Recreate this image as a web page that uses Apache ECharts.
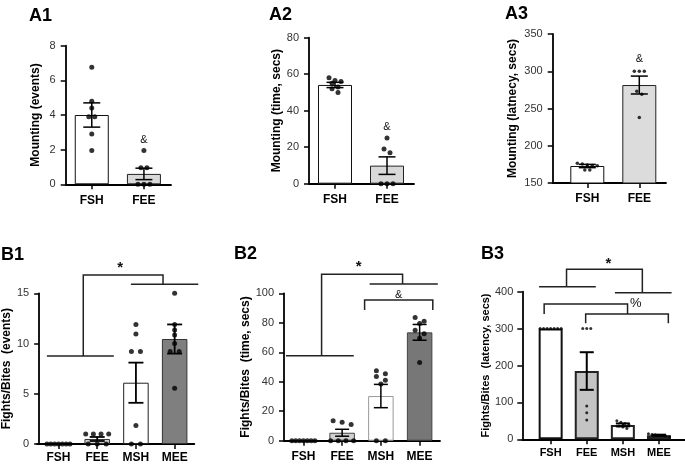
<!DOCTYPE html>
<html><head><meta charset="utf-8">
<script src="https://cdn.jsdelivr.net/npm/echarts@6/dist/echarts.min.js"></script>
<style>html,body{margin:0;padding:0;background:#fff}#c{width:685px;height:471px}</style>
</head><body><div id="c"></div>
<script>
// ---------------- DATA ----------------
const catsA = ['FSH', 'FEE'];
const catsB = ['FSH', 'FEE', 'MSH', 'MEE'];

// A1 Mounting (events)
const a1Ticks = [0, 2, 4, 6, 8];
const a1Mean = [4.0, 0.6];
const a1Sem = [0.7, 0.33];
const a1FSH = [6.75, 4.8, 4.4, 3.9, 3.9, 2.9, 1.95];
const a1FEE = [1.95, 0.95, 0.95, 0, 0, 0];

// A2 Mounting (time, secs)
const a2Ticks = [0, 20, 40, 60, 80];
const a2Mean = [54.1, 9.9];
const a2Sem = [1.45, 4.8];
const a2FSH = [58, 56.5, 56, 55, 53, 52, 50];
const a2FEE = [25, 19, 17, 0, 0, 0];

// A3 Mounting (latency, secs)
const a3Ticks = [150, 200, 250, 300, 350];
const a3Mean = [172.8, 281.5];
const a3Sem = [2.2, 12];
const a3FSH = [176.5, 175.5, 174, 173.5, 173, 167.5, 167.5];
const a3FEE = [300, 300, 300, 273, 269, 238];

// B1 Fights/Bites (events)
const b1Ticks = [0, 5, 10, 15];
const b1Mean = [0, 0.5, 6.1, 10.45];
const b1Sem = [0, 0.2, 2.0, 1.45];
const b1FSH = [0, 0, 0, 0, 0, 0, 0];
const b1FEE = [1, 1, 1, 1, 0, 0, 0];
const b1MSH = [11.9, 10.95, 9.2, 9.2, 1.85, 0, 0];
const b1MEE = [15, 11.9, 11.35, 10.85, 10.0, 9.2, 9.2, 5.55];

// B2 Fights/Bites (time, secs)
const b2Ticks = [0, 20, 40, 60, 80, 100];
const b2Mean = [0, 5.4, 30.3, 73.5];
const b2Sem = [0, 2.35, 7.9, 5.35];
const b2FSH = [0, 0, 0, 0, 0, 0, 0];
const b2FEE = [13.5, 12.5, 11, 0, 0, 0, 0];
const b2MSH = [47.5, 45.5, 43.5, 41, 38.5, 0, 0];
const b2MEE = [83.5, 81, 79.5, 75, 72.5, 69.5, 53];

// B3 Fights/Bites (latency, secs)
const b3Ticks = [0, 100, 200, 300, 400];
const b3Mean = [300, 185, 39, 11];
const b3Sem = [0, 51, 4, 1.5];
const b3FSH = [300, 300, 300, 300, 300, 300, 300];
const b3FEE = [300, 300, 300, 90, 72, 52];
const b3MSH = [50, 46, 43, 40, 36, 33, 29];
const b3MEE = [15, 13, 12, 11, 10, 9, 7];

// significance annotations (data units: category index, value)
const b1Brackets = [
  [[-0.30, 8.76], [1.43, 8.76]],
  [[0.64, 8.76], [0.64, 16.82], [2.70, 16.82], [2.70, 15.9]],
  [[1.87, 15.9], [3.61, 15.9]]
];
const b1Marks = [{t: '*', x: 1.59, y: 17.5}];
const b2Brackets = [
  [[-0.45, 57.7], [1.30, 57.7]],
  [[0.47, 57.7], [0.47, 112.9], [2.56, 112.9], [2.56, 106.3]],
  [[1.71, 106.3], [3.47, 106.3]],
  [[1.58, 88.7], [1.58, 95.5], [3.34, 95.5], [3.34, 88.7]]
];
const b2Marks = [{t: '*', x: 1.43, y: 117.6}, {t: '&', x: 2.46, y: 99.2}];
const b3Brackets = [
  [[-0.32, 413.6], [1.25, 413.6]],
  [[0.44, 413.6], [0.44, 460.7], [2.54, 460.7], [2.54, 397.3]],
  [[1.78, 397.3], [3.35, 397.3]],
  [[-0.18, 339.6], [-0.18, 366.7], [2.13, 366.7], [2.13, 339.6]],
  [[0.97, 314.4], [0.97, 339.6], [3.26, 339.6], [3.26, 314.4]]
];
const b3Marks = [{t: '*', x: 1.60, y: 475}, {t: '%', x: 2.36, y: 367}];
const a1Marks = [{t: '&', x: 1, y: 2.56}];
const a2Marks = [{t: '&', x: 1, y: 31.2}];
const a3Marks = [{t: '&', x: 1, y: 316}];

// ---------------- LAYOUT / STYLE ----------------
const FONT = '"Liberation Sans", Arial, sans-serif';
const panels = [
  {title: 'A1', cats: catsA, ticks: a1Ticks, mean: a1Mean, sem: a1Sem, pts: [a1FSH, a1FEE],
   ytitle: 'Mounting (events)', brackets: [], marks: a1Marks,
   fill: ['#ffffff', '#d9d9d9'], border: ['#111', '#222'],
   L: {tx: 29, ty: 7, axisX: 65.7, gl: 65.7, gr: 170, top: 45.7, bottom: 184.3, lineEnd: 171,
       barW: 34, capW: 17, dot: 5, step: 6, spread: 20, bw: 1, eb: 1.5,
       tickFont: 11, catFont: 12, catMargin: 10, yMargin: 10, nameGap: 24, nameFont: 12}},
  {title: 'A2', cats: catsA, ticks: a2Ticks, mean: a2Mean, sem: a2Sem, pts: [a2FSH, a2FEE],
   ytitle: 'Mounting (time, secs)', brackets: [], marks: a2Marks,
   fill: ['#ffffff', '#d9d9d9'], border: ['#111', '#222'],
   L: {tx: 269, ty: 6, axisX: 309, gl: 309, gr: 413, top: 37.7, bottom: 183.7, lineEnd: 414,
       barW: 34, capW: 17, dot: 5, step: 6, spread: 20, bw: 1, eb: 1.5,
       tickFont: 11, catFont: 12, catMargin: 10, yMargin: 10, nameGap: 26, nameFont: 12}},
  {title: 'A3', cats: catsA, ticks: a3Ticks, mean: a3Mean, sem: a3Sem, pts: [a3FSH, a3FEE],
   ytitle: 'Mounting (latnecy, secs)', brackets: [], marks: a3Marks,
   fill: ['#ffffff', '#dcdcdc'], border: ['#111', '#222'],
   L: {tx: 505, ty: 5, axisX: 552.7, gl: 561.3, gr: 665.3, top: 34, bottom: 183, lineEnd: 666,
       barW: 34, capW: 17, dot: 3.5, step: 5, spread: 24, bw: 1, eb: 1.5,
       tickFont: 11, catFont: 12, catMargin: 10, yMargin: 10, nameGap: 34, nameFont: 12}},
  {title: 'B1', cats: catsB, ticks: b1Ticks, mean: b1Mean, sem: b1Sem, pts: [b1FSH, b1FEE, b1MSH, b1MEE],
   ytitle: 'Fights/Bites  (events)', brackets: b1Brackets, marks: b1Marks,
   fill: ['#ffffff', '#d0d0d0', '#ffffff', '#7f7f7f'], border: ['#111', '#333', '#222', '#333'],
   L: {tx: 1, ty: 246, axisX: 37.3, gl: 37.3, gr: 194, top: 293.3, bottom: 444, lineEnd: 194.3,
       barW: 25.5, capW: 15, dot: 5, step: 9, spread: 23, bw: 1, eb: 1.8,
       tickFont: 11, catFont: 12, catMargin: 8, yMargin: 10, nameGap: 23, nameFont: 12}},
  {title: 'B2', cats: catsB, ticks: b2Ticks, mean: b2Mean, sem: b2Sem, pts: [b2FSH, b2FEE, b2MSH, b2MEE],
   ytitle: 'Fights/Bites  (time, secs)', brackets: b2Brackets, marks: b2Marks,
   fill: ['#ffffff', '#d0d0d0', '#ffffff', '#777777'], border: ['#111', '#444', '#999', '#444'],
   L: {tx: 234, ty: 245, axisX: 284, gl: 284, gr: 439, top: 293.3, bottom: 440.7, lineEnd: 440,
       barW: 25.5, capW: 14, dot: 5, step: 9, spread: 23, bw: 1, eb: 1.5,
       tickFont: 11, catFont: 12, catMargin: 10, yMargin: 10, nameGap: 32, nameFont: 12}},
  {title: 'B3', cats: catsB, ticks: b3Ticks, mean: b3Mean, sem: b3Sem, pts: [b3FSH, b3FEE, b3MSH, b3MEE],
   ytitle: 'Fights/Bites  (latency, secs)', brackets: b3Brackets, marks: b3Marks,
   fill: ['#ffffff', '#c4c4c4', '#ffffff', '#6f6f6f'], border: ['#111', '#222', '#222', '#222'],
   L: {tx: 481, ty: 245, axisX: 522.3, gl: 532.6, gr: 677, top: 291.7, bottom: 439.3, lineEnd: 685,
       barW: 24, capW: 14, dot: 3, step: 4, spread: 21, bw: 2, eb: 2,
       tickFont: 11, catFont: 11, catMargin: 8, yMargin: 9, nameGap: 28, nameFont: 11}}
];

function swarm(vals, tol, step, spread) {
  const out = new Array(vals.length).fill(0);
  const used = new Array(vals.length).fill(false);
  for (let i = 0; i < vals.length; i++) {
    if (used[i]) continue;
    const grp = [i]; used[i] = true;
    for (let j = i + 1; j < vals.length; j++) {
      if (!used[j] && Math.abs(vals[j] - vals[i]) <= tol) { grp.push(j); used[j] = true; }
    }
    const s = grp.length > 1 ? Math.min(step, spread / (grp.length - 1)) : 0;
    grp.forEach((idx, k) => { out[idx] = (k - (grp.length - 1) / 2) * s; });
  }
  return out;
}
function toPx(api, x, y) {
  const r = Math.round(x);
  const c = api.coord([r, y]);
  const bw = api.size([1, 0])[0];
  return [c[0] + (x - r) * bw, c[1]];
}

const option = {animation: false, textStyle: {fontFamily: FONT}, title: [], grid: [], xAxis: [], yAxis: [], series: []};

panels.forEach((p, k) => {
  const L = p.L;
  const ymin = p.ticks[0], ymax = p.ticks[p.ticks.length - 1];
  const yint = p.ticks[1] - p.ticks[0];
  const ax = 2 * k, dx = 2 * k + 1;
  option.title.push({text: p.title, left: L.tx, top: L.ty, padding: 0,
    textStyle: {fontSize: 18, fontWeight: 'bold', color: '#000', fontFamily: FONT}});
  option.grid.push({left: L.gl, top: L.top, width: L.gr - L.gl, height: L.bottom - L.top});
  option.grid.push({left: L.axisX, top: L.top, width: L.lineEnd - L.axisX, height: L.bottom - L.top});
  option.xAxis.push({type: 'category', gridIndex: ax, data: p.cats,
    axisLine: {show: false, onZero: false},
    axisTick: {show: true, alignWithLabel: true, length: 5, lineStyle: {color: '#000', width: 1.5}},
    axisLabel: {fontSize: L.catFont, fontWeight: 'bold', color: '#000', margin: L.catMargin, fontFamily: FONT, interval: 0}});
  option.xAxis.push({type: 'value', gridIndex: dx, min: 0, max: 1,
    axisLine: {show: true, onZero: false, lineStyle: {color: '#000', width: 1.8}},
    axisTick: {show: false}, axisLabel: {show: false}, splitLine: {show: false}});
  option.yAxis.push({type: 'value', gridIndex: ax, min: ymin, max: ymax, interval: yint,
    offset: L.gl - L.axisX,
    axisLine: {show: true, lineStyle: {color: '#000', width: 1.8}},
    axisTick: {show: true, length: 5, lineStyle: {color: '#000', width: 1.5}},
    axisLabel: {fontSize: L.tickFont, color: '#333', margin: L.yMargin, fontFamily: FONT},
    splitLine: {show: false},
    name: p.ytitle, nameLocation: 'middle', nameRotate: 90, nameGap: L.nameGap,
    nameTextStyle: {fontSize: L.nameFont, fontWeight: 'bold', color: '#000', fontFamily: FONT}});
  option.yAxis.push({type: 'value', gridIndex: dx, min: 0, max: 1, show: false});

  // bars (group means)
  option.series.push({type: 'bar', xAxisIndex: ax, yAxisIndex: ax, barWidth: L.barW, silent: true, z: 2,
    data: p.mean.map((m, i) => ({value: m, itemStyle: {color: p.fill[i], borderColor: p.border[i], borderWidth: L.bw}}))});

  // individual points
  const tol = (ymax - ymin) * 0.025;
  const pdata = [];
  p.pts.forEach((vals, ci) => {
    const offs = swarm(vals, tol, L.step, L.spread);
    vals.forEach((v, j) => pdata.push({value: [ci, v], symbolOffset: [offs[j], 0]}));
  });
  option.series.push({type: 'scatter', xAxisIndex: ax, yAxisIndex: ax, symbol: 'circle', symbolSize: L.dot,
    itemStyle: {color: '#000'}, silent: true, z: 3, data: pdata});

  // error bars (SEM)
  option.series.push({type: 'custom', xAxisIndex: ax, yAxisIndex: ax, silent: true, z: 4, clip: false,
    data: p.mean.map((m, i) => [i, m, p.sem[i]]),
    renderItem: (params, api) => {
      const i = api.value(0), m = api.value(1), s = api.value(2);
      if (!s) return null;
      const t = api.coord([i, m + s]), b = api.coord([i, m - s]);
      const hw = L.capW / 2;
      const st = {stroke: '#000', lineWidth: L.eb};
      return {type: 'group', children: [
        {type: 'line', shape: {x1: t[0], y1: t[1], x2: b[0], y2: b[1]}, style: st},
        {type: 'line', shape: {x1: t[0] - hw, y1: t[1], x2: t[0] + hw, y2: t[1]}, style: st},
        {type: 'line', shape: {x1: b[0] - hw, y1: b[1], x2: b[0] + hw, y2: b[1]}, style: st}
      ]};
    }});

  // brackets
  if (p.brackets.length) {
    option.series.push({type: 'custom', xAxisIndex: ax, yAxisIndex: ax, silent: true, z: 5, clip: false,
      data: p.brackets.map(b => [Math.max(0, Math.round(b[0][0])), ymin]),
      renderItem: (params, api) => {
        const pts = p.brackets[params.dataIndex].map(q => toPx(api, q[0], q[1]));
        return {type: 'polyline', shape: {points: pts}, style: {stroke: '#222', lineWidth: 1.5, fill: null}};
      }});
  }
  // significance symbols
  option.series.push({type: 'custom', xAxisIndex: ax, yAxisIndex: ax, silent: true, z: 6, clip: false,
    data: p.marks.map(m => [Math.max(0, Math.round(m.x)), ymin]),
    renderItem: (params, api) => {
      const m = p.marks[params.dataIndex];
      const pt = toPx(api, m.x, m.y);
      const font = m.t === '*' ? 'bold 15px ' + FONT : (m.t === '%' ? '13px ' + FONT : '11px ' + FONT);
      return {type: 'text', x: pt[0], y: pt[1],
        style: {text: m.t, font: font, fill: '#111', align: 'center', verticalAlign: 'middle'}};
    }});
});

const chart = echarts.init(document.getElementById('c'), null, {renderer: 'canvas'});
chart.setOption(option);
</script>
</body></html>
